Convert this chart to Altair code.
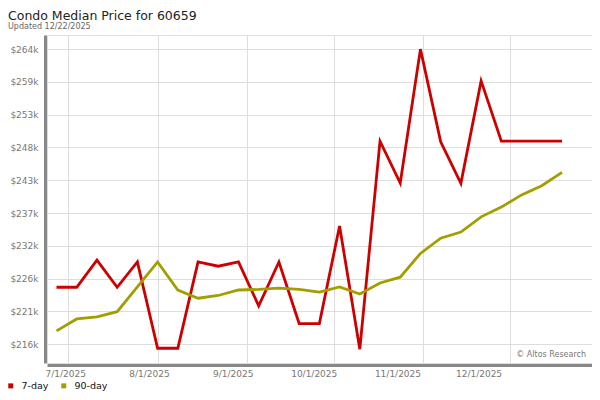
import altair as alt
import pandas as pd

# ---- data ----
dates = [
    "2025-06-27", "2025-07-04", "2025-07-11", "2025-07-18", "2025-07-25",
    "2025-08-01", "2025-08-08", "2025-08-15", "2025-08-22", "2025-08-29",
    "2025-09-05", "2025-09-12", "2025-09-19", "2025-09-26", "2025-10-03",
    "2025-10-10", "2025-10-17", "2025-10-24", "2025-10-31", "2025-11-07",
    "2025-11-14", "2025-11-21", "2025-11-28", "2025-12-05", "2025-12-12",
    "2025-12-19",
]
seven_day = [
    224950, 224950, 229400, 224950, 229100, 214950, 214950, 229100, 228400, 229100,
    221900, 229100, 219000, 219000, 235000, 214800, 248900, 242050, 264000, 248800,
    242000, 258800, 248900, 248900, 248900, 248900,
]
ninety_day = [
    217800, 219750, 220100, 220950, 225000, 229100, 224500, 223150, 223600, 224500,
    224600, 224800, 224600, 224150, 225000, 223850, 225650, 226600, 230500, 233000,
    234000, 236500, 238100, 240100, 241600, 243800,
]
series_names = ["7-day", "90-day"]
series_colors = ["#cc0000", "#a39e00"]
y_tick_values = [215600, 220980, 226360, 231740, 237120, 242500, 247880, 253260, 258640, 264020]
month_starts = [(2025, 7), (2025, 8), (2025, 9), (2025, 10), (2025, 11), (2025, 12)]
title_text = "Condo Median Price for 60659"
subtitle_text = "Updated 12/22/2025"
credit_text = "© Altos Research"

df = pd.DataFrame({
    "date": dates * 2,
    "value": seven_day + ninety_day,
    "series": [series_names[0]] * len(dates) + [series_names[1]] * len(dates),
})
month_df = pd.DataFrame({"month": [f"{y}-{m:02d}-01" for y, m in month_starts]})
credit_df = pd.DataFrame({"t": [credit_text]})

month_values = [alt.DateTime(year=y, month=m, date=1, utc=True) for y, m in month_starts]

FONT = "DejaVu Sans"

lines = alt.Chart(df).mark_line(strokeWidth=2.8, strokeJoin="miter").encode(
    x=alt.X(
        "date:T",
        scale=alt.Scale(
            type="utc",
            domain=[
                alt.DateTime(year=2025, month=6, date=23, hours=17, utc=True),
                alt.DateTime(year=2025, month=12, date=29, hours=9, minutes=20, utc=True),
            ],
        ),
        axis=alt.Axis(
            orient="bottom", values=month_values, labels=False, ticks=False,
            grid=True, gridColor="#dddddd", gridWidth=1,
            domain=True, domainColor="#888888", domainWidth=3, offset=2, title=None,
        ),
    ),
    y=alt.Y(
        "value:Q",
        scale=alt.Scale(domain=[212530, 266320], nice=False, zero=False),
        axis=alt.Axis(
            values=y_tick_values,
            labelExpr="'$' + round(datum.value / 1000) + 'k'",
            ticks=False, labelPadding=7, labelColor="#777777", labelFontSize=9,
            labelFont=FONT, grid=True, gridColor="#dddddd", gridWidth=1,
            domain=True, domainColor="#888888", domainWidth=3, offset=2, title=None,
        ),
    ),
    color=alt.Color(
        "series:N",
        scale=alt.Scale(domain=series_names, range=series_colors),
        legend=alt.Legend(
            orient="none", legendX=-41, legendY=346, direction="horizontal",
            title=None, symbolType="square", symbolSize=4, symbolStrokeWidth=3,
            labelFontSize=9.5, labelColor="#111111", labelFont=FONT,
            labelOffset=6, columnPadding=7, padding=0,
        ),
    ),
)

label_axis = alt.Chart(month_df).mark_point(opacity=0).encode(
    x=alt.X(
        "month:T",
        scale=alt.Scale(
            type="utc",
            domain=[
                alt.DateTime(year=2025, month=6, date=24, hours=6, minutes=15, utc=True),
                alt.DateTime(year=2026, month=1, date=12, hours=0, minutes=15, utc=True),
            ],
        ),
        axis=alt.Axis(
            orient="bottom", values=month_values,
            labelExpr="utcFormat(datum.value, '%-m/%-d/%Y')",
            grid=False, ticks=False, domain=False, offset=2, labelPadding=4,
            labelColor="#777777", labelFontSize=9, labelFont=FONT, title=None,
        ),
    ),
)

credit = alt.Chart(credit_df).mark_text(
    align="right", baseline="middle", fontSize=8, color="#777777", font=FONT
).encode(x=alt.value(539), y=alt.value(320), text="t:N")

chart = alt.layer(lines, label_axis, credit).resolve_scale(x="independent").resolve_axis(
    x="independent"
).properties(
    width=545,
    height=328,
    autosize=alt.AutoSizeParams(type="none"),
    padding={"left": 39, "top": 27, "right": 0, "bottom": 30},
    title=alt.Title(
        title_text, subtitle=subtitle_text, anchor="start", frame="group", dx=-39,
        font=FONT, fontSize=12.5, fontWeight="normal", color="#222222",
        subtitleFont=FONT, subtitleFontSize=8, subtitleColor="#666666",
        subtitlePadding=1, offset=4,
    ),
).configure(font=FONT).configure_view(stroke="#dddddd", strokeWidth=1)

chart.save("out.html", embed_options={"renderer": "svg", "actions": False})
